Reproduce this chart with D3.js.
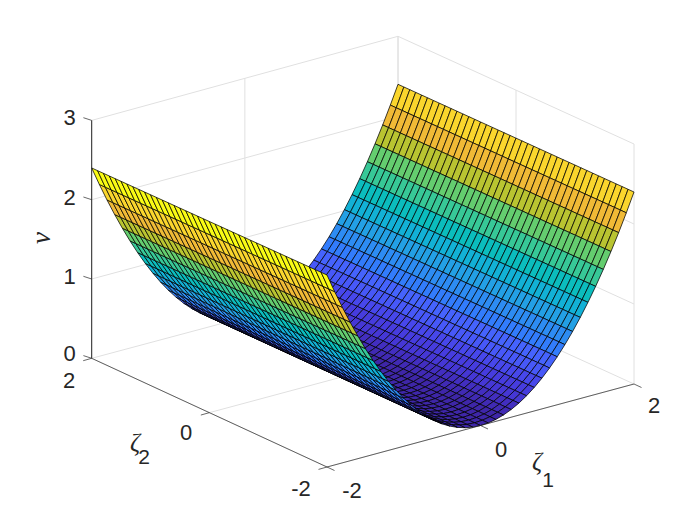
<!DOCTYPE html>
<html><head><meta charset="utf-8">
<style>html,body{margin:0;background:#fff}svg{display:block}text{font-family:"Liberation Sans",Arial,sans-serif;fill:#262626}</style>
<script src="https://cdn.jsdelivr.net/npm/d3@7"></script></head><body><div id="c"></div>
<script>
const zeta1Grid=[-2,-1.9,-1.8,-1.7,-1.6,-1.5,-1.4,-1.3,-1.2,-1.1,-1,-0.9,-0.8,-0.7,-0.6,-0.5,-0.4,-0.3,-0.2,-0.1,0,0.1,0.2,0.3,0.4,0.5,0.6,0.7,0.8,0.9,1,1.1,1.2,1.3,1.4,1.5,1.6,1.7,1.8,1.9,2];
const zeta2Grid=[-2,-1.9,-1.8,-1.7,-1.6,-1.5,-1.4,-1.3,-1.2,-1.1,-1,-0.9,-0.8,-0.7,-0.6,-0.5,-0.4,-0.3,-0.2,-0.1,0,0.1,0.2,0.3,0.4,0.5,0.6,0.7,0.8,0.9,1,1.1,1.2,1.3,1.4,1.5,1.6,1.7,1.8,1.9,2];
const nuProfile=[2.4,2.166,1.944,1.734,1.536,1.35,1.176,1.014,0.864,0.726,0.6,0.486,0.384,0.294,0.216,0.15,0.096,0.054,0.024,0.006,0,0.006,0.024,0.054,0.096,0.15,0.216,0.294,0.384,0.486,0.6,0.726,0.864,1.014,1.176,1.35,1.536,1.734,1.944,2.166,2.4];
const zeta1Ticks=[-2,0,2];
const zeta2Ticks=[-2,0,2];
const nuTicks=[0,1,2,3];
const parula=[[.2422,.1504,.6603],[.2504,.165,.7076],[.2578,.1818,.7511],[.2647,.1978,.7952],[.2706,.2147,.8364],[.2751,.2342,.871],[.2783,.2559,.8991],[.2803,.2782,.9221],[.2813,.3006,.9414],[.281,.3228,.9579],[.2795,.3447,.9717],[.276,.3667,.9829],[.2699,.3892,.9906],[.2602,.4123,.9952],[.244,.4358,.9988],[.2206,.4603,.9973],[.1963,.4847,.9892],[.1834,.5074,.9798],[.1786,.5289,.9682],[.1764,.5499,.952],[.1687,.5703,.9359],[.154,.5902,.9218],[.146,.6091,.9079],[.138,.6276,.8973],[.1248,.6459,.8883],[.1113,.6635,.8763],[.0952,.6798,.8598],[.0689,.6948,.8394],[.0297,.7082,.8163],[.0036,.7203,.7917],[.0067,.7305,.7661],[.0433,.7394,.7394],[.0964,.7473,.7132],[.1408,.7547,.6858],[.1717,.7623,.6553],[.1938,.7701,.6244],[.2161,.7843,.5923],[.247,.7918,.5567],[.2906,.7973,.5188],[.3406,.8008,.4789],[.3909,.8029,.4354],[.4456,.8024,.3909],[.5044,.7993,.348],[.5616,.7942,.3045],[.6174,.7876,.2612],[.672,.7793,.2227],[.7242,.7698,.191],[.7738,.7598,.1646],[.8203,.7498,.1535],[.8634,.7406,.1596],[.9035,.733,.1774],[.9393,.7285,.21],[.9728,.7309,.2394],[.9956,.7491,.2371],[.9973,.765,.2199],[.9955,.7862,.1992],[.9892,.8137,.1896],[.9789,.8393,.1765],[.9686,.8639,.1649],[.9616,.8877,.1539],[.9596,.9137,.1376],[.9628,.9373,.1265],[.9691,.9606,.1064],[.9769,.9839,.0805]];

const W=700,H=525;
const svg=d3.select("#c").append("svg").attr("width",W).attr("height",H);
const u=d3.scaleLinear().domain([-2,2]).range([0,1]);
const w=d3.scaleLinear().domain([-2,2]).range([0,1]);
const corner={front:[327,467,80],right:[634,384,80],left:[91.7,358.3,79.3],back:[398,276.3,80]};
function project(a,b,z){
  const s=u(a),t=w(b);
  const m=i=>(1-s)*(1-t)*corner.front[i]+s*(1-t)*corner.right[i]+(1-s)*t*corner.left[i]+s*t*corner.back[i];
  return [m(0),m(1)-z*m(2)];
}
const line=d3.line();
const color=d3.scaleQuantize().domain([0,2.4]).range(parula.map(c=>d3.rgb(c[0]*255,c[1]*255,c[2]*255).formatHex()));
const colorOf=v=>v>=2.4?color.range()[63]:color(v);

const gridG=svg.append("g").attr("fill","none").attr("stroke","#e0e0e0").attr("stroke-width",1);
const seg=(g,p,q)=>g.append("path").attr("d",line([p,q]));
nuTicks.forEach(z=>{
  if(z>0){seg(gridG,project(-2,2,z),project(2,2,z));seg(gridG,project(2,2,z),project(2,-2,z));}
});
zeta1Ticks.forEach(a=>{
  seg(gridG,project(a,-2,0),project(a,2,0));
  seg(gridG,project(a,2,0),project(a,2,3));
});
zeta2Ticks.forEach(b=>{
  seg(gridG,project(-2,b,0),project(2,b,0));
  seg(gridG,project(2,b,0),project(2,b,3));
});

const cells=[];
for(let i=zeta1Grid.length-2;i>=0;i--)for(let j=zeta2Grid.length-2;j>=0;j--)cells.push([i,j]);
svg.append("g").selectAll("path").data(cells).join("path")
 .attr("d",([i,j])=>line([
   project(zeta1Grid[i],zeta2Grid[j],nuProfile[i]),
   project(zeta1Grid[i+1],zeta2Grid[j],nuProfile[i+1]),
   project(zeta1Grid[i+1],zeta2Grid[j+1],nuProfile[i+1]),
   project(zeta1Grid[i],zeta2Grid[j+1],nuProfile[i])])+"Z")
 .attr("fill",([i])=>colorOf(nuProfile[i]))
 .attr("stroke","#000").attr("stroke-width",0.75).attr("stroke-linejoin","round");

const ax=svg.append("g").attr("fill","none").attr("stroke","#262626").attr("stroke-width",0.7);
seg(ax,project(-2,2,0),project(-2,-2,0));
seg(ax,project(-2,-2,0),project(2,-2,0));
seg(ax,project(-2,2,0),project(-2,2,3)).attr("stroke-width",1);
zeta1Ticks.forEach(a=>{const p=project(a,-2,0);seg(ax,p,[p[0]+7.5,p[1]+3.5]);});
zeta2Ticks.forEach(b=>{const p=project(-2,b,0);seg(ax,p,[p[0]-8.5,p[1]+2.4]);});
nuTicks.forEach(z=>{const p=project(-2,2,z);seg(ax,p,[p[0]-8.3,p[1]-2.7]);});

const fs=22;
const txt=(x,y,s,size)=>svg.append("text").attr("x",x).attr("y",y).attr("text-anchor","middle").attr("font-size",size||fs).text(s);
nuTicks.forEach(z=>{const p=project(-2,2,z);txt(p[0]-22,p[1]+(z===0?3:5),z);});
const z2pos={"2":[69,388],"0":[186,440],"-2":[301,496]};
zeta2Ticks.forEach(b=>txt(z2pos[b][0],z2pos[b][1],b));
const z1pos={"-2":[352,498],"0":[501,457],"2":[654,413]};
zeta1Ticks.forEach(a=>txt(z1pos[a][0],z1pos[a][1],a));

const serif=(x,y,s,size)=>svg.append("text").attr("x",x).attr("y",y).attr("text-anchor","middle").attr("font-size",size)
  .style("font-family","'Liberation Serif',serif").style("font-style","italic").text(s);
serif(135,451,"ζ",25);
txt(144,464,"2",21);
serif(537,470,"ζ",25);
txt(548,487,"1",21);
serif(0,0,"ν",27).attr("transform","translate(50,238) rotate(-90)");
</script></body></html>
